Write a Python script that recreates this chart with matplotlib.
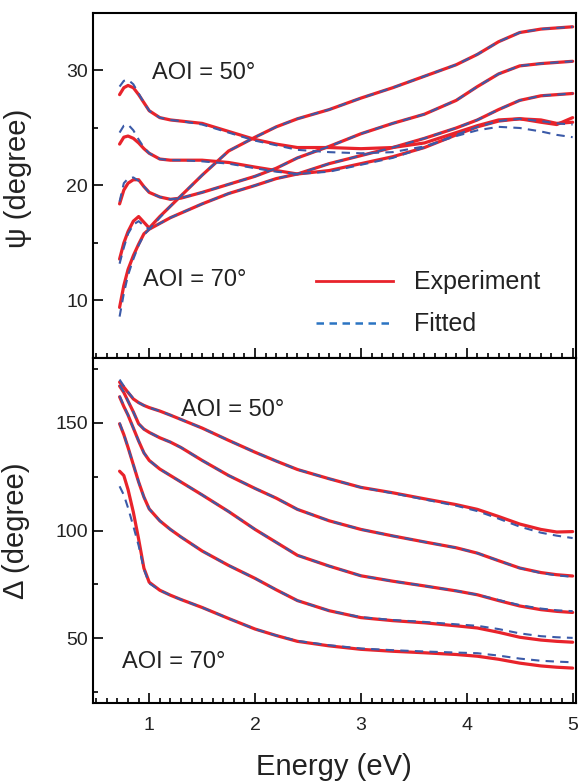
import numpy as np
import matplotlib
matplotlib.use("Agg")
import matplotlib.pyplot as plt
from matplotlib.lines import Line2D
from matplotlib.ticker import MultipleLocator

plt.rcParams['font.family'] = ['Liberation Sans', 'DejaVu Sans']

# Photon energy grid (eV)
energy = [0.72, 0.76, 0.80, 0.85, 0.90, 0.95, 1.00, 1.10, 1.20, 1.30, 1.50, 1.75, 2.00,
          2.20, 2.40, 2.70, 3.00, 3.30, 3.60, 3.90, 4.10, 4.30, 4.50, 4.70, 4.85, 5.00]

aoi = [50, 55, 60, 65, 70]

# Psi (degree), measured
psi_exp_50 = [27.9, 28.5, 28.7, 28.5, 27.9, 27.2, 26.5, 25.9, 25.7, 25.6, 25.4, 24.7, 24.0,
              23.6, 23.3, 23.3, 23.2, 23.3, 23.7, 24.6, 25.2, 25.7, 25.8, 25.5, 25.3, 25.9]
psi_exp_55 = [23.6, 24.2, 24.3, 24.1, 23.7, 23.2, 22.8, 22.3, 22.2, 22.2, 22.2, 22.0, 21.6,
              21.3, 21.0, 21.3, 21.9, 22.5, 23.3, 24.4, 25.1, 25.6, 25.8, 25.7, 25.4, 25.5]
psi_exp_60 = [18.4, 19.6, 20.2, 20.5, 20.5, 19.9, 19.4, 19.0, 18.8, 18.9, 19.4, 20.1, 20.8,
              21.5, 22.4, 23.4, 24.5, 25.4, 26.2, 27.4, 28.6, 29.7, 30.4, 30.6, 30.7, 30.8]
psi_exp_65 = [13.6, 15.0, 16.0, 16.9, 17.3, 16.8, 16.3, 17.3, 18.2, 19.1, 20.9, 23.0, 24.2,
              25.1, 25.8, 26.6, 27.6, 28.5, 29.5, 30.5, 31.4, 32.5, 33.3, 33.6, 33.7, 33.8]
psi_exp_70 = [9.4, 11.3, 12.7, 13.9, 14.9, 15.8, 16.2, 16.7, 17.2, 17.6, 18.4, 19.3, 20.0,
              20.6, 21.0, 21.9, 22.6, 23.3, 24.1, 25.0, 25.7, 26.6, 27.4, 27.8, 27.9, 28.0]

# Psi (degree), model fit
psi_fit_50 = [28.6, 29.1, 29.2, 28.8, 28.0, 27.2, 26.5, 25.9, 25.7, 25.6, 25.3, 24.6, 23.9,
              23.5, 23.1, 22.9, 22.8, 22.9, 23.4, 24.3, 24.8, 25.1, 25.0, 24.7, 24.4, 24.2]
psi_fit_55 = [24.6, 25.2, 25.3, 24.8, 24.0, 23.3, 22.8, 22.3, 22.2, 22.2, 22.1, 21.9, 21.5,
              21.2, 21.0, 21.2, 21.8, 22.4, 23.3, 24.4, 25.1, 25.6, 25.8, 25.6, 25.4, 25.3]
psi_fit_60 = [18.6, 20.2, 20.6, 20.7, 20.4, 19.9, 19.4, 19.0, 18.8, 18.9, 19.4, 20.1, 20.8,
              21.5, 22.4, 23.4, 24.5, 25.4, 26.2, 27.4, 28.6, 29.7, 30.4, 30.6, 30.7, 30.8]
psi_fit_65 = [13.2, 14.6, 15.8, 16.6, 16.9, 16.5, 16.2, 17.2, 18.2, 19.1, 20.9, 23.0, 24.2,
              25.1, 25.8, 26.6, 27.6, 28.5, 29.5, 30.5, 31.4, 32.5, 33.3, 33.6, 33.7, 33.8]
psi_fit_70 = [8.6, 10.6, 12.2, 13.6, 14.8, 15.7, 16.2, 16.7, 17.2, 17.6, 18.4, 19.3, 20.0,
              20.6, 21.0, 21.9, 22.6, 23.3, 24.1, 25.0, 25.7, 26.6, 27.4, 27.8, 27.9, 28.0]

# Delta (degree), measured
delta_exp_50 = [168.8, 166.5, 164.0, 161.0, 159.3, 158.0, 157.0, 155.4, 153.5, 151.5, 147.5, 141.8, 136.3,
                132.2, 128.3, 124.0, 120.0, 117.5, 114.7, 112.0, 109.8, 106.5, 103.0, 100.5, 99.3, 99.5]
delta_exp_55 = [167.0, 164.0, 160.0, 155.0, 149.5, 147.0, 145.5, 143.0, 141.0, 138.5, 132.5, 125.5, 119.5,
                115.0, 109.8, 104.5, 100.5, 97.5, 94.7, 92.0, 89.5, 86.0, 82.6, 80.5, 79.5, 78.9]
delta_exp_60 = [162.0, 157.5, 153.5, 147.5, 141.5, 136.0, 132.5, 128.5, 125.5, 122.5, 116.5, 108.8, 100.5,
                94.5, 88.5, 83.5, 79.0, 76.5, 74.3, 72.0, 70.2, 67.5, 65.0, 63.3, 62.5, 62.0]
delta_exp_65 = [149.5, 144.5, 138.5, 130.5, 122.5, 115.5, 110.0, 104.5, 100.5, 97.0, 90.5, 83.8, 77.8,
                72.5, 67.5, 62.8, 59.6, 58.2, 57.2, 55.8, 54.8, 52.8, 50.5, 49.2, 48.6, 48.2]
delta_exp_70 = [127.5, 125.5, 119.0, 108.5, 96.0, 82.5, 76.0, 72.3, 70.0, 68.0, 64.3, 59.2, 54.3,
                51.3, 48.6, 46.5, 44.9, 44.0, 43.3, 42.5, 41.7, 40.3, 38.5, 37.2, 36.6, 36.2]

# Delta (degree), model fit
delta_fit_50 = [170.0, 167.0, 164.3, 161.2, 159.3, 158.0, 157.0, 155.4, 153.5, 151.5, 147.5, 141.8, 136.3,
                132.2, 128.3, 124.0, 120.0, 117.3, 114.4, 111.5, 109.0, 105.5, 101.8, 99.0, 97.6, 96.5]
delta_fit_55 = [167.5, 164.2, 160.0, 155.0, 149.5, 147.0, 145.5, 143.0, 141.0, 138.5, 132.5, 125.5, 119.5,
                115.0, 109.8, 104.5, 100.5, 97.5, 94.7, 92.0, 89.5, 86.0, 82.6, 80.3, 79.2, 78.5]
delta_fit_60 = [162.5, 157.8, 153.5, 147.5, 141.5, 136.0, 132.5, 128.5, 125.5, 122.5, 116.5, 108.8, 100.5,
                94.5, 88.5, 83.5, 79.0, 76.5, 74.3, 72.0, 70.2, 67.8, 65.4, 63.8, 63.0, 62.6]
delta_fit_65 = [150.0, 144.5, 138.5, 130.5, 122.5, 115.5, 110.0, 104.5, 100.5, 97.0, 90.5, 83.8, 77.8,
                72.5, 67.5, 62.8, 59.8, 58.5, 57.6, 56.5, 55.8, 54.3, 52.3, 51.0, 50.5, 50.2]
delta_fit_70 = [120.5, 116.5, 110.5, 102.0, 93.0, 82.0, 75.5, 72.3, 70.0, 68.0, 64.3, 59.2, 54.3,
                51.3, 48.8, 46.8, 45.3, 44.5, 43.9, 43.4, 43.1, 42.0, 40.6, 39.6, 39.2, 38.9]

psi_exp = [psi_exp_50, psi_exp_55, psi_exp_60, psi_exp_65, psi_exp_70]
psi_fit = [psi_fit_50, psi_fit_55, psi_fit_60, psi_fit_65, psi_fit_70]
delta_exp = [delta_exp_50, delta_exp_55, delta_exp_60, delta_exp_65, delta_exp_70]
delta_fit = [delta_fit_50, delta_fit_55, delta_fit_60, delta_fit_65, delta_fit_70]

red = '#e8232b'
blue = '#3b5aa8'
txt = '#222222'

fig = plt.figure(figsize=(5.8, 7.82), dpi=100)
ax1 = fig.add_axes([0.160, 0.5422, 0.8328, 0.4412])
ax2 = fig.add_axes([0.160, 0.1010, 0.8328, 0.4412])

for ax, exp_sets, fit_sets in [(ax1, psi_exp, psi_fit), (ax2, delta_exp, delta_fit)]:
    for y_exp, y_fit in zip(exp_sets, fit_sets):
        ax.plot(energy, y_exp, color=red, lw=2.3, solid_capstyle='round', zorder=2)
    for y_exp, y_fit in zip(exp_sets, fit_sets):
        ax.plot(energy, y_fit, color=blue, lw=1.5, dashes=(4, 3), zorder=3)

    ax.set_xlim(0.467, 5.03)
    ax.xaxis.set_major_locator(MultipleLocator(1))
    ax.xaxis.set_minor_locator(MultipleLocator(0.1))
    ax.tick_params(which='both', direction='in', top=False, right=False,
                   labelsize=14, labelcolor=txt, width=1.2)
    ax.tick_params(which='major', length=7)
    ax.tick_params(which='minor', length=3.5)
    for s in ax.spines.values():
        s.set_linewidth(1.5)

ax1.set_ylim(5, 35)
ax1.yaxis.set_major_locator(MultipleLocator(10))
ax1.yaxis.set_minor_locator(MultipleLocator(5))
ax1.tick_params(axis='x', labelbottom=False)
ax1.set_ylabel('ψ (degree)', fontsize=21, color=txt)
ax1.yaxis.set_label_coords(-0.125, 0.52)

ax2.set_ylim(20, 180)
ax2.yaxis.set_major_locator(MultipleLocator(50))
ax2.yaxis.set_minor_locator(MultipleLocator(25))
ax2.tick_params(axis='x', pad=10)
ax2.set_ylabel('Δ (degree)', fontsize=21, color=txt)
ax2.yaxis.set_label_coords(-0.13, 0.5)
ax2.set_xlabel('Energy (eV)', fontsize=21, color=txt, labelpad=14)

ax1.text(1.024, 29.8, f'AOI = {aoi[0]}°', fontsize=17, color=txt, va='center')
ax1.text(0.939, 11.8, f'AOI = {aoi[-1]}°', fontsize=17, color=txt, va='center')
ax2.text(1.298, 155.9, f'AOI = {aoi[0]}°', fontsize=17, color=txt, va='center')
ax2.text(0.741, 39.0, f'AOI = {aoi[-1]}°', fontsize=17, color=txt, va='center')

handles = [Line2D([], [], color=red, lw=2.0),
           Line2D([], [], color='#2b74c2', lw=1.8, dashes=(3, 2.2))]
ax1.legend(handles, ['Experiment', 'Fitted'], loc='center left',
           bbox_to_anchor=(0.4617, 0.158), frameon=False, fontsize=18,
           handlelength=3.1, handletextpad=0.84, labelspacing=0.72,
           borderpad=0, borderaxespad=0, labelcolor=txt)

fig.savefig('out.png', dpi=100)
